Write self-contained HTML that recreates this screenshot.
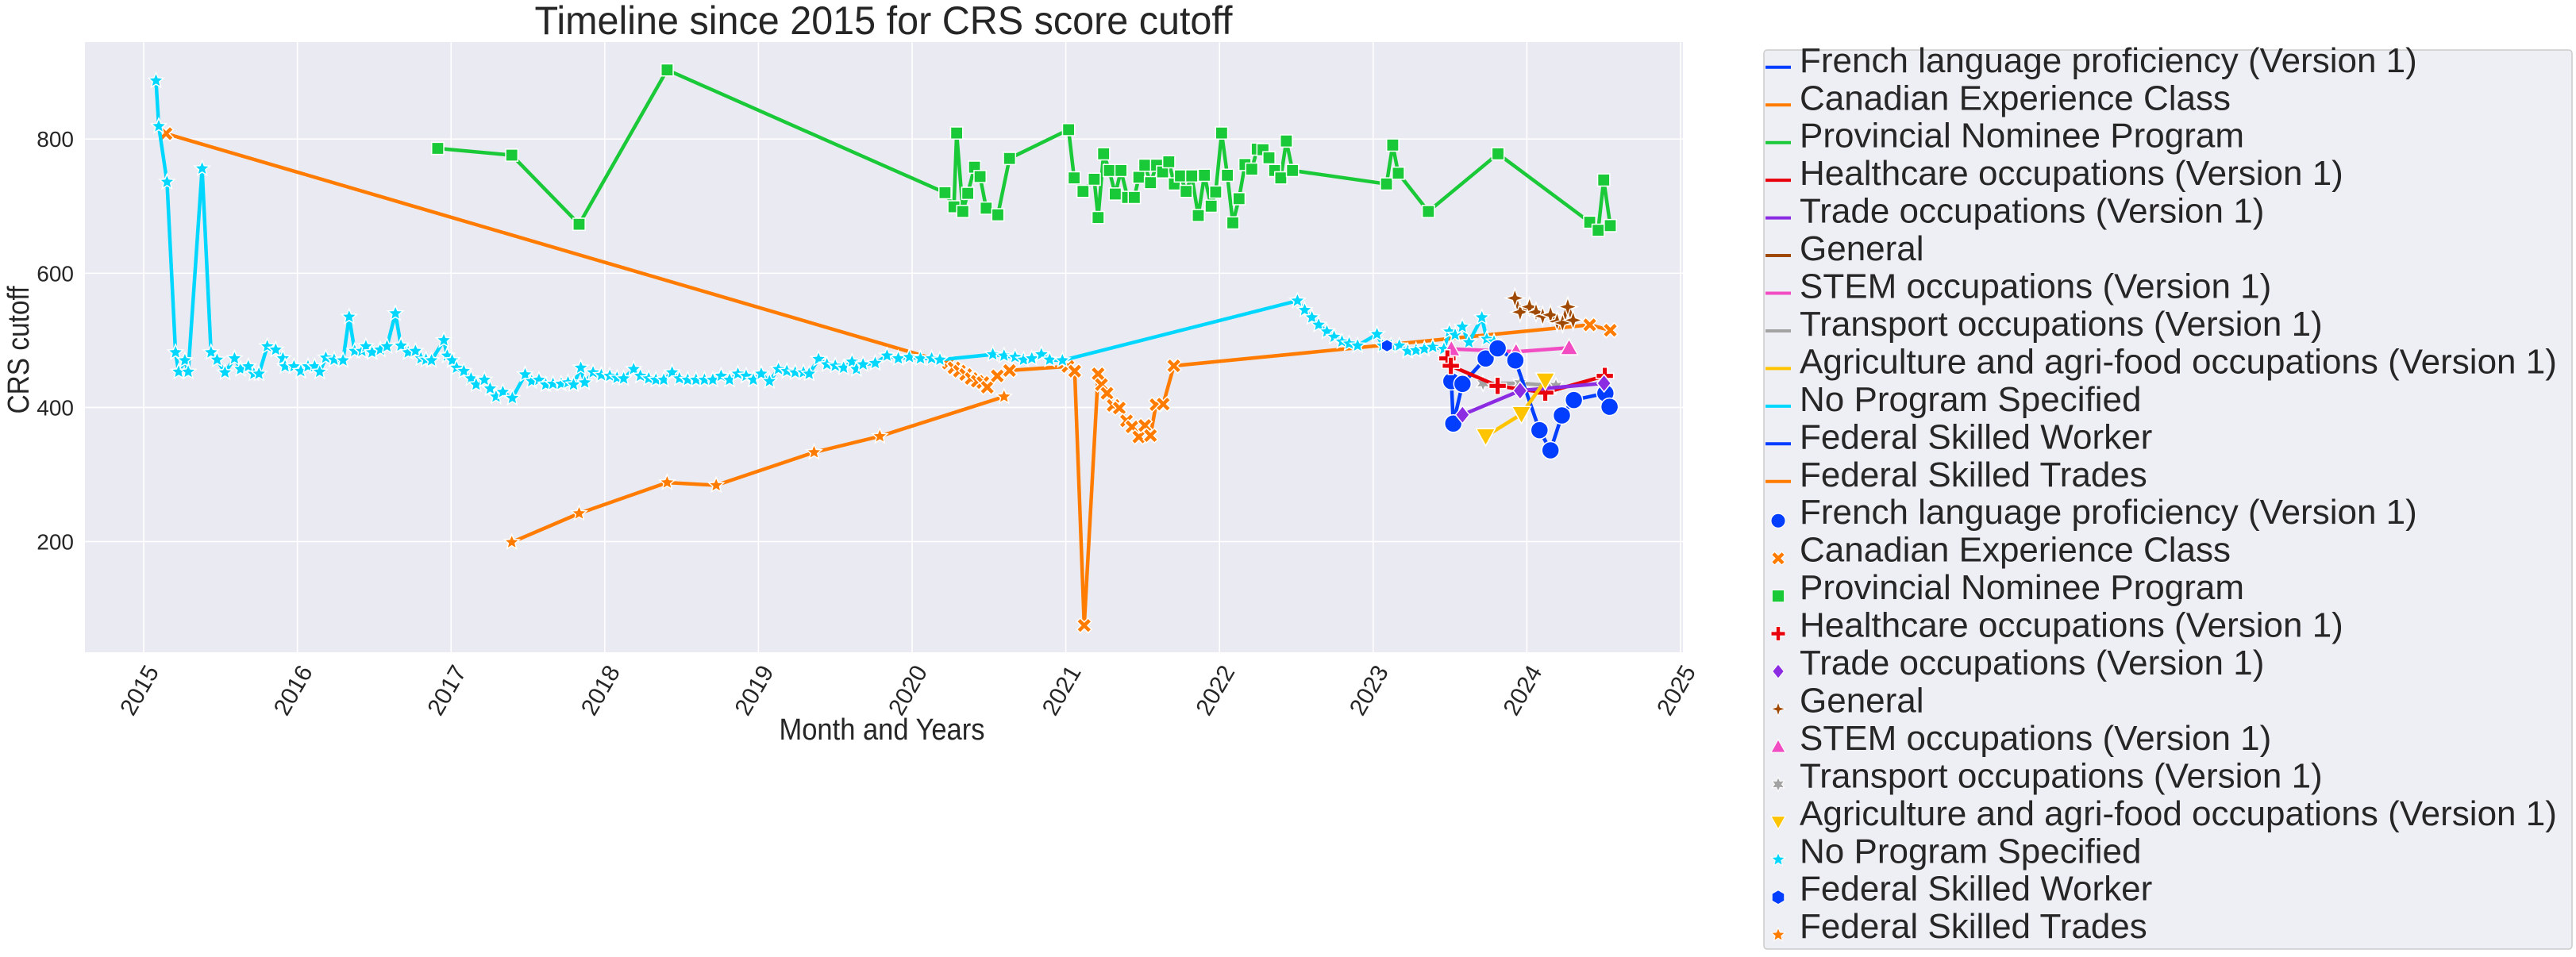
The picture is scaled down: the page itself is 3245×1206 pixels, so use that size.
<!DOCTYPE html>
<html><head><meta charset="utf-8">
<style>
html,body{margin:0;padding:0;background:#fff;}
svg{display:block;font-family:"Liberation Sans",Arial,sans-serif;}
</style></head>
<body>
<svg id="chart" xmlns="http://www.w3.org/2000/svg" width="3245" height="1206" viewBox="0 0 3245 1206">
<rect x="0" y="0" width="3245" height="1206" fill="#ffffff"/>
<rect x="107" y="53" width="2013" height="769" fill="#eaeaf2"/>
<g id="grid"></g>
<g id="series"></g>
<g id="axes"></g>
<text x="1113" y="43" font-size="50" fill="#262626" text-anchor="middle" textLength="879" lengthAdjust="spacingAndGlyphs">Timeline since 2015 for CRS score cutoff</text>
<text x="1111" y="932" font-size="38" fill="#262626" text-anchor="middle" textLength="259" lengthAdjust="spacingAndGlyphs">Month and Years</text>
<text transform="translate(36,441) rotate(-90)" font-size="38" fill="#262626" text-anchor="middle" textLength="161" lengthAdjust="spacingAndGlyphs">CRS cutoff</text>
<g id="legend"></g>
</svg>
<script>
const xTicks = [2015,2016,2017,2018,2019,2020,2021,2022,2023,2024,2025];
const yTicks = [200,400,600,800];

const pnpYears = [2016.913,2017.395,2017.833,2018.406,2020.214,2020.272,2020.29,2020.33,2020.362,2020.406,2020.442,2020.482,2020.558,2020.634,2021.018,2021.054,2021.112,2021.185,2021.21,2021.246,2021.283,2021.322,2021.359,2021.402,2021.446,2021.475,2021.514,2021.551,2021.591,2021.63,2021.67,2021.706,2021.746,2021.783,2021.819,2021.862,2021.902,2021.946,2021.975,2022.014,2022.051,2022.087,2022.127,2022.166,2022.21,2022.246,2022.283,2022.322,2022.359,2022.399,2022.435,2022.475,2023.087,2023.127,2023.163,2023.359,2023.812,2024.409,2024.464,2024.5,2024.543];
const pnpValues = [786,776,673,903,720,699,809,692,719,758,744,697,687,771,814,742,722,740,683,778,753,718,753,713,713,743,761,735,761,751,766,733,745,722,745,686,746,700,721,809,746,675,711,762,755,785,784,772,753,742,797,753,733,791,749,692,778,676,664,739,671];

const cecYears = [2015.145,2020.236,2020.272,2020.308,2020.348,2020.384,2020.424,2020.46,2020.489,2020.554,2020.634,2021.014,2021.058,2021.12,2021.21,2021.232,2021.268,2021.308,2021.348,2021.395,2021.431,2021.475,2021.514,2021.551,2021.587,2021.634,2021.703,2024.409,2024.543];
const cecValues = [808,466,459,454,449,443,439,437,430,447,455,461,454,75,450,434,421,403,399,380,371,356,373,358,404,405,462,523,515];

const fstYears = [2017.395,2017.833,2018.406,2018.725,2019.362,2019.79,2020.598];
const fstValues = [199,242,288,284,333,357,416];

const npsYears = [2015.08,2015.098,2015.152,2015.207,2015.228,2015.268,2015.29,2015.38,2015.438,2015.478,2015.529,2015.591,2015.63,2015.681,2015.717,2015.75,2015.804,2015.859,2015.906,2015.92,2015.978,2016.022,2016.069,2016.112,2016.145,2016.185,2016.239,2016.297,2016.337,2016.373,2016.42,2016.446,2016.486,2016.54,2016.583,2016.638,2016.674,2016.721,2016.768,2016.804,2016.837,2016.873,2016.953,2016.975,2017.007,2017.036,2017.083,2017.13,2017.163,2017.217,2017.254,2017.293,2017.337,2017.399,2017.482,2017.525,2017.572,2017.616,2017.663,2017.717,2017.761,2017.797,2017.844,2017.87,2017.924,2017.978,2018.033,2018.08,2018.123,2018.188,2018.232,2018.286,2018.333,2018.384,2018.438,2018.486,2018.54,2018.594,2018.649,2018.703,2018.757,2018.812,2018.866,2018.92,2018.967,2019.018,2019.072,2019.13,2019.185,2019.239,2019.293,2019.33,2019.391,2019.446,2019.5,2019.554,2019.609,2019.638,2019.681,2019.76,2019.837,2019.91,2019.982,2020.054,2020.127,2020.181,2020.525,2020.598,2020.67,2020.725,2020.779,2020.841,2020.895,2020.978,2022.507,2022.554,2022.601,2022.645,2022.699,2022.746,2022.797,2022.844,2022.899,2023.025,2023.062,2023.116,2023.17,2023.225,2023.279,2023.333,2023.388,2023.46,2023.496,2023.533,2023.58,2023.623,2023.707,2023.739,2023.786];
const npsValues = [887,819,736,482,453,470,453,756,482,471,452,473,457,461,450,450,491,486,473,461,461,454,461,461,453,474,471,470,535,484,484,491,482,486,491,540,492,482,484,473,471,470,500,477,470,459,454,443,434,441,428,416,423,414,449,439,441,434,435,435,437,434,459,437,452,448,447,444,443,457,447,443,441,441,452,443,441,441,441,441,447,441,450,447,441,450,439,457,454,452,452,450,472,464,462,459,468,457,464,466,477,473,475,473,473,471,479,477,475,471,473,479,471,470,559,545,534,523,513,505,498,495,492,509,492,492,492,484,485,487,490,487,513,508,520,497,534,502,498];

const flpYears = [2023.509,2023.521,2023.581,2023.732,2023.81,2023.925,2024.082,2024.154,2024.228,2024.306,2024.511,2024.538];
const flpValues = [439,376,435,473,488,470,366,336,388,411,421,401];

const hcYears = [2023.483,2023.505,2023.81,2024.12,2024.507];
const hcValues = [473,462,432,422,447];

const tradeYears = [2023.581,2023.956,2024.502];
const tradeValues = [389,425,436];

const genYears = [2023.922,2023.956,2024.017,2024.06,2024.103,2024.154,2024.197,2024.232,2024.266,2024.301];
const genValues = [563,542,550,542,536,538,528,526,550,530];

const stemYears = [2023.509,2023.93,2024.275];
const stemValues = [487,483,489];

const transYears = [2023.715,2023.956,2024.189];
const transValues = [436,436,432];

const agriYears = [2023.732,2023.965,2024.12];
const agriValues = [357,390,440];

const fswYears = [2023.09];
const fswValues = [492];

const seriesNames = ["French language proficiency (Version 1)","Canadian Experience Class","Provincial Nominee Program","Healthcare occupations (Version 1)","Trade occupations (Version 1)","General","STEM occupations (Version 1)","Transport occupations (Version 1)","Agriculture and agri-food occupations (Version 1)","No Program Specified","Federal Skilled Worker","Federal Skilled Trades"];

const NS = "http://www.w3.org/2000/svg";
const X0 = 181, XW = 193.6, Y0 = 851.6, YK = 0.8455;
function xs(yr){ return X0 + (yr - 2015) * XW; }
function ys(v){ return Y0 - v * YK; }
function mk(tag, attrs, parent){
  const e = document.createElementNS(NS, tag);
  for (const k in attrs) e.setAttribute(k, attrs[k]);
  parent.appendChild(e);
  return e;
}
const grid = document.getElementById('grid');
const axes = document.getElementById('axes');
const seriesG = document.getElementById('series');
const legend = document.getElementById('legend');

xTicks.forEach(t => {
  const l = mk('line', {x1: xs(t), x2: xs(t), y1: 53, y2: 822, stroke: '#fff', 'stroke-width': 1.6}, grid);
  
  
  const tx = mk('text', {transform: `translate(${xs(t)+20},846) rotate(-60)`, 'font-size': 30, fill: '#262626', 'text-anchor': 'end'}, axes);
  tx.textContent = t;
  
  
});
yTicks.forEach(t => {
  const l = mk('line', {x1: 107, x2: 2120, y1: ys(t), y2: ys(t), stroke: '#fff', 'stroke-width': 1.6}, grid);
  
  
  const tx = mk('text', {x: 93, y: ys(t) + 10, 'font-size': 28, fill: '#262626', 'text-anchor': 'end'}, axes);
  tx.textContent = t;
  
  
});

function markerPath(shape, s){
  switch(shape){
    case 'circle': return `M${-s},0a${s},${s} 0 1,0 ${2*s},0a${s},${s} 0 1,0 ${-2*s},0Z`;
    case 'square': return `M${-s*0.85},${-s*0.85}h${1.7*s}v${1.7*s}h${-1.7*s}Z`;
    case 'diamond': return `M0,${-s}L${s*0.8},0L0,${s}L${-s*0.8},0Z`;
    case 'tup': return `M0,${-s}L${s},${s*0.8}L${-s},${s*0.8}Z`;
    case 'tdown': return `M0,${s}L${s},${-s*0.8}L${-s},${-s*0.8}Z`;
    case 'hex': { let p=''; for(let i=0;i<6;i++){const a=Math.PI/3*i+Math.PI/6; p+=(i?'L':'M')+(s*Math.cos(a)).toFixed(2)+','+(s*Math.sin(a)).toFixed(2);} return p+'Z'; }
    case 'star4': { let p=''; for(let i=0;i<8;i++){const a=Math.PI/4*i-Math.PI/2; const r=i%2?s*0.35:s; p+=(i?'L':'M')+(r*Math.cos(a)).toFixed(2)+','+(r*Math.sin(a)).toFixed(2);} return p+'Z'; }
    case 'star': { let p=''; for(let i=0;i<10;i++){const a=Math.PI/5*i-Math.PI/2; const r=i%2?s*0.45:s; p+=(i?'L':'M')+(r*Math.cos(a)).toFixed(2)+','+(r*Math.sin(a)).toFixed(2);} return p+'Z'; }
    case 'starx': { let p=''; for(let i=0;i<12;i++){const a=Math.PI/6*i-Math.PI/2; const r=i%2?s*0.5:s; p+=(i?'L':'M')+(r*Math.cos(a)).toFixed(2)+','+(r*Math.sin(a)).toFixed(2);} return p+'Z'; }
    case 'plus': { const w=s*0.3; return `M${-w},${-s}h${2*w}v${s-w}h${s-w}v${2*w}h${w-s}v${s-w}h${-2*w}v${w-s}h${w-s}v${-2*w}h${s-w}Z`; }
    case 'x': { const w=s*0.3; return `M${-w},${-s}h${2*w}v${s-w}h${s-w}v${2*w}h${w-s}v${s-w}h${-2*w}v${w-s}h${w-s}v${-2*w}h${s-w}Z`; }
  }
}
function drawSeries(name, years, vals, color, shape, size){
  const g = mk('g', {}, seriesG);
  
  
  const pts = years.map((y,i) => xs(y).toFixed(1) + ',' + ys(vals[i]).toFixed(1)).join(' ');
  const pl = mk('polyline', {points: pts, fill: 'none', stroke: color, 'stroke-width': 4.5, 'stroke-linejoin': 'round'}, g);
  
  
  years.forEach((y,i) => {
    const rot = shape === 'x' ? ' rotate(45)' : '';
    const m = mk('path', {d: markerPath(shape, size), transform: `translate(${xs(y).toFixed(1)},${ys(vals[i]).toFixed(1)})${rot}`, fill: color, stroke: '#fff', 'stroke-width': 1.5}, g);
    
    
  });
}
const colors = ['#023eff','#ff7c00','#1ac938','#e8000b','#8b2be2','#9f4800','#f14cc1','#a3a3a3','#ffc400','#00d7ff','#023eff','#ff7c00'];
const shapes = ['circle','x','square','plus','diamond','star4','tup','starx','tdown','star','hex','star'];

drawSeries('provincial-nominee', pnpYears, pnpValues, colors[2], 'square', 9);
drawSeries('canadian-experience', cecYears, cecValues, colors[1], 'x', 10);
drawSeries('federal-skilled-trades', fstYears, fstValues, colors[11], 'star', 10);
drawSeries('no-program', npsYears, npsValues, colors[9], 'star', 10);
drawSeries('federal-skilled-worker', fswYears, fswValues, colors[10], 'hex', 8);
drawSeries('stem', stemYears, stemValues, colors[6], 'tup', 11);
drawSeries('general', genYears, genValues, colors[5], 'star4', 12);
drawSeries('transport', transYears, transValues, colors[7], 'starx', 10);
drawSeries('french-language', flpYears, flpValues, colors[0], 'circle', 11);
drawSeries('healthcare', hcYears, hcValues, colors[3], 'plus', 11);
drawSeries('trade', tradeYears, tradeValues, colors[4], 'diamond', 11);
drawSeries('agriculture', agriYears, agriValues, colors[8], 'tdown', 12);

// Legend
const lb = mk('rect', {x: 2222, y: 63, width: 1018, height: 1133, rx: 4, fill: '#eaeaf2', 'fill-opacity': 0.8, stroke: '#cccccc', 'stroke-width': 1.5}, legend);


for (let i = 0; i < 24; i++){
  const k = i % 12;
  const y = 84.8 + i * 47.45;
  const g = mk('g', {}, legend);
  
  
  if (i < 12){
    mk('line', {x1: 2224, x2: 2256, y1: y, y2: y, stroke: colors[k], 'stroke-width': 4}, g);
  } else {
    const rot = shapes[k] === 'x' ? ' rotate(45)' : '';
    mk('path', {d: markerPath(shapes[k], 9), transform: `translate(2240,${y+2})${rot}`, fill: colors[k], stroke: '#fff', 'stroke-width': 1}, g);
  }
  const t = mk('text', {x: 2267, y: y + 6, 'font-size': 44, fill: '#262626'}, g);
  t.textContent = seriesNames[k];
}
</script>
</body></html>
